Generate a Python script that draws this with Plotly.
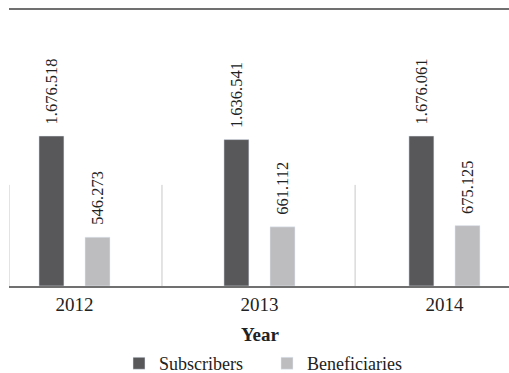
import plotly.graph_objects as go

years = ["2012", "2013", "2014"]
subscribers = [1676518, 1636541, 1676061]
beneficiaries = [546273, 661112, 675125]
sub_labels = ["1.676.518", "1.636.541", "1.676.061"]
ben_labels = ["546.273", "661.112", "675.125"]
boundaries = [-0.354, 0.473, 1.517]

FONT = "Liberation Serif"
SUB_C = "#58585a"
BEN_C = "#bdbdc0"
xs = list(range(len(years)))

fig = go.Figure()
fig.add_bar(x=xs, y=subscribers, name="Subscribers", marker_color=SUB_C,
            width=0.135, offset=-0.192)
fig.add_bar(x=xs, y=beneficiaries, name="Beneficiaries", marker_color=BEN_C,
            width=0.135, offset=0.057)

ann = []
for i, (s, b) in enumerate(zip(subscribers, beneficiaries)):
    ann.append(dict(x=i - 0.1245, y=s, text=sub_labels[i], textangle=-90,
                    showarrow=False, yanchor="bottom", xanchor="center", yshift=10,
                    font=dict(family=FONT, size=16.5, color="#222")))
    ann.append(dict(x=i + 0.1245, y=b, text=ben_labels[i], textangle=-90,
                    showarrow=False, yanchor="bottom", xanchor="center", yshift=10,
                    font=dict(family=FONT, size=16.5, color="#222")))
ann.append(dict(x=0.502, y=-0.175, xref="paper", yref="paper", text="<b>Year</b>",
                showarrow=False, yanchor="middle", xanchor="center",
                font=dict(family=FONT, size=19, color="#222")))

shapes = [dict(type="line", xref="x", yref="y", x0=bx, x1=bx, y0=0, y1=1.13e6,
               line=dict(color="#c8c8c8", width=1)) for bx in boundaries]

fig.update_layout(
    width=509, height=373,
    margin=dict(l=9, r=0, t=10, b=87, autoexpand=False),
    paper_bgcolor="white", plot_bgcolor="white",
    showlegend=True,
    legend=dict(orientation="h", x=0.516, xanchor="center", y=-0.214, yanchor="top",
                font=dict(family=FONT, size=18, color="#222"), traceorder="normal",
                itemwidth=30, entrywidth=103, entrywidthmode="pixels",
                bgcolor="rgba(0,0,0,0)"),
    annotations=ann, shapes=shapes,
    font=dict(family=FONT, color="#222"),
)
fig.update_xaxes(range=[-0.354, 2.349], tickvals=xs, ticktext=years,
                 showline=True, linecolor="#707070", linewidth=2, mirror=True,
                 showgrid=False, zeroline=False, ticks="",
                 tickfont=dict(family=FONT, size=19, color="#222"))
fig.update_yaxes(range=[0, 3.085e6], showgrid=False, zeroline=False,
                 showticklabels=False, showline=False)

fig.write_html("out.html")
